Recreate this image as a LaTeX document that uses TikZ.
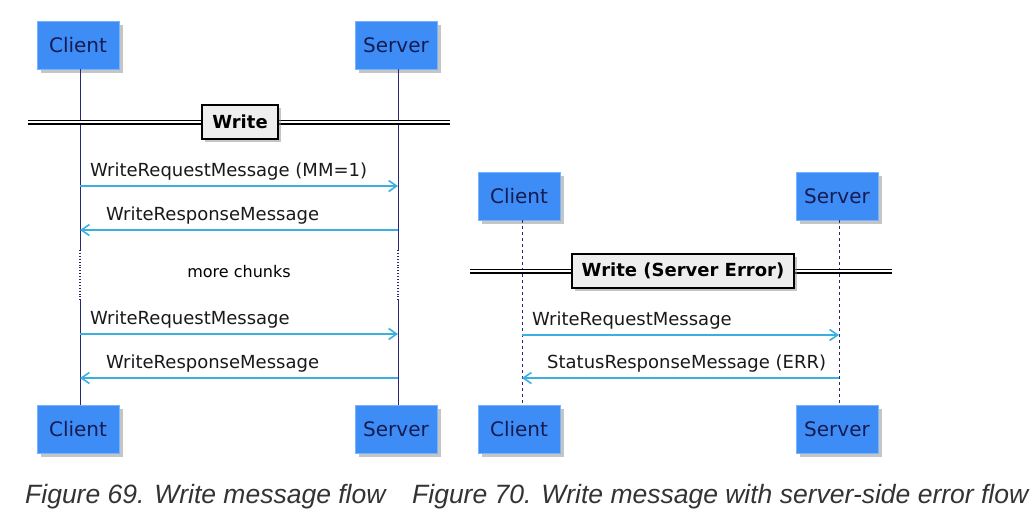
\documentclass[tikz,border=0pt]{standalone}
\usepackage{fontspec}
\setmainfont{DejaVu Sans}
\newfontfamily\capfont{Liberation Sans}
\usetikzlibrary{arrows.meta, shadows}

\definecolor{partfill}{RGB}{62,140,246}
\definecolor{partline}{RGB}{120,180,250}
\definecolor{parttext}{RGB}{22,28,80}
\definecolor{lifeline}{RGB}{40,40,120}
\definecolor{msgline}{RGB}{60,175,225}
\definecolor{divfill}{RGB}{238,238,238}

\tikzset{
    part/.style = {draw=partline, fill=partfill, text=parttext, minimum width=82pt, minimum height=48pt,
        font=\fontsize{20}{22}\selectfont, drop shadow={shadow xshift=4pt, shadow yshift=-4pt, fill=black!45}},
    divbox/.style = {draw=black, line width=1.8pt, fill=divfill, inner xsep=10pt, minimum height=34pt,
        font=\bfseries\fontsize{18}{20}\selectfont, drop shadow={shadow xshift=3pt, shadow yshift=-3pt, fill=black!45}},
    divline/.style = {draw=black, double=white, double distance=2.2pt, line width=1.4pt},
    life/.style = {draw=lifeline, line width=0.9pt},
    msg/.style = {draw=msgline, line width=1.1pt, -{Straight Barb[length=8pt, width=11pt, line width=1.6pt]}},
    lbl/.style = {text=black!90, inner sep=0pt, anchor=south west, font=\fontsize{18}{20}\selectfont},
    figcap/.style = {text=black!80, inner sep=0pt, anchor=base west, font=\capfont\itshape\fontsize{26.5}{30}\selectfont}
}

\begin{document}
\begin{tikzpicture}[x=1pt, y=-1pt]
    \useasboundingbox (0,0) rectangle (1036,520);

    % Write message flow:
    \node[part] (cltop) at (78,45) {Client};
    \node[part] (srvtop) at (396,45) {Server};
    \node[part] (clbot) at (78,429) {Client};
    \node[part] (srvbot) at (396,429) {Server};

    \coordinate (clgap1) at (80,250);
    \coordinate (clgap2) at (80,300);
    \coordinate (srvgap1) at (398,250);
    \coordinate (srvgap2) at (398,300);

    \draw[life] (cltop.south -| clgap1) -- (clgap1);
    \draw[life, dotted, line width=1.2pt] (clgap1) -- (clgap2);
    \draw[life] (clgap2) -- (clbot.north -| clgap2);
    \draw[life] (srvtop.south -| srvgap1) -- (srvgap1);
    \draw[life, dotted, line width=1.2pt] (srvgap1) -- (srvgap2);
    \draw[life] (srvgap2) -- (srvbot.north -| srvgap2);

    \coordinate (divl) at (28,122);
    \coordinate (divr) at (450,122);
    \draw[divline] (divl) -- (divr);
    \node[divbox] (write) at (240,122) {Write};

    \draw[msg] (clgap1 |- 0,186) -- (srvgap1 |- 0,186);
    \node[lbl] (req1) at (90,180) {WriteRequestMessage (MM=1)};
    \draw[msg] (srvgap1 |- 0,230) -- (clgap1 |- 0,230);
    \node[lbl] (resp1) at (106,224) {WriteResponseMessage};

    \node[font=\fontsize{16}{18}\selectfont] (chunks) at (239,272) {more chunks};

    \draw[msg] (clgap2 |- 0,334) -- (srvgap2 |- 0,334);
    \node[lbl] (req2) at (90,328) {WriteRequestMessage};
    \draw[msg] (srvgap2 |- 0,378) -- (clgap2 |- 0,378);
    \node[lbl] (resp2) at (106,372) {WriteResponseMessage};

    % Write message with server-side error flow:
    \node[part] (cltop2) at (519,196) {Client};
    \node[part] (srvtop2) at (837,196) {Server};
    \node[part] (clbot2) at (519,429) {Client};
    \node[part] (srvbot2) at (837,429) {Server};

    \draw[life, dashed] (cltop2.south -| 522,0) -- (clbot2.north -| 522,0);
    \draw[life, dashed] (srvtop2.south -| 839,0) -- (srvbot2.north -| 839,0);

    \coordinate (divl2) at (470,271);
    \coordinate (divr2) at (892,271);
    \draw[divline] (divl2) -- (divr2);
    \node[divbox] (writeerr) at (683,271) {Write (Server Error)};

    \draw[msg] (522,335) -- (839,335);
    \node[lbl] (req3) at (532,329) {WriteRequestMessage};
    \draw[msg] (839,378) -- (522,378);
    \node[lbl] (status) at (547,372) {StatusResponseMessage (ERR)};

    % Captions:
    \node[figcap] (fig69) at (25,503) {Figure 69. Write message flow};
    \node[figcap] (fig70) at (412,503) {Figure 70. Write message with server-side error flow};
\end{tikzpicture}
\end{document}
